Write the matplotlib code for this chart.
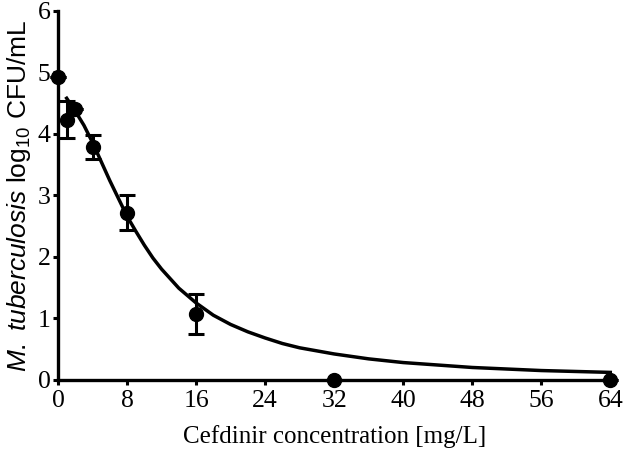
import matplotlib
matplotlib.use('Agg')
import matplotlib.pyplot as plt

# measured points (mean log10 CFU/mL) and SD
conc = [0, 1, 2, 4, 8, 16, 32, 64]
cfu = [4.93, 4.23, 4.40, 3.79, 2.72, 1.07, 0.0, 0.0]
err = [0.0, 0.30, 0.0, 0.20, 0.29, 0.32, 0.0, 0.0]

# fitted curve
fit_x = [1, 2, 3, 4, 5, 6, 7, 8, 9, 10, 11, 12, 14, 16, 18, 20, 22, 24, 26, 28,
         30, 32, 36, 40, 44, 48, 52, 56, 60, 64]
fit_y = [4.58, 4.37, 4.14, 3.86, 3.55, 3.24, 2.95, 2.66, 2.42, 2.19, 1.98, 1.80,
         1.49, 1.25, 1.05, 0.90, 0.78, 0.68, 0.59, 0.52, 0.47, 0.42, 0.34, 0.28,
         0.24, 0.20, 0.175, 0.15, 0.135, 0.12]

xticks = [0, 8, 16, 24, 32, 40, 48, 56, 64]
yticks = [0, 1, 2, 3, 4, 5, 6]

plt.rcParams['mathtext.fontset'] = 'custom'
plt.rcParams['mathtext.rm'] = 'Liberation Sans'
plt.rcParams['mathtext.it'] = 'Liberation Sans:italic'

fig = plt.figure(figsize=(6.24, 4.57), dpi=100)
ax = fig.add_axes([0.093, 0.169, 0.885, 0.807])

ax.plot(fit_x, fit_y, color='black', lw=2.5, clip_on=False, zorder=2)
ax.errorbar(conc, cfu, yerr=err, fmt='o', color='black', ms=10,
            elinewidth=2.2, capsize=6, capthick=2.2, clip_on=False, zorder=3)

ax.set_xlim(0, 64)
ax.set_ylim(0, 6)
ax.set_xticks(xticks)
ax.set_yticks(yticks)

for s in ['top', 'right']:
    ax.spines[s].set_visible(False)
for s in ['left', 'bottom']:
    ax.spines[s].set_linewidth(2.4)
ax.tick_params(direction='out', length=3.5, width=2.2, labelsize=18.5, pad=2)
ax.tick_params(axis='x', pad=4)
for lab in ax.get_xticklabels() + ax.get_yticklabels():
    lab.set_family('Liberation Serif')

ax.set_xlabel('Cefdinir concentration [mg/L]', family='Liberation Serif',
              fontsize=18, labelpad=9)
ax.set_ylabel(r'$\mathit{M.\ tuberculosis}$ log$_{10}$ CFU/mL',
              family='Liberation Sans', fontsize=19, labelpad=3)

fig.savefig('out.png', dpi=100)
